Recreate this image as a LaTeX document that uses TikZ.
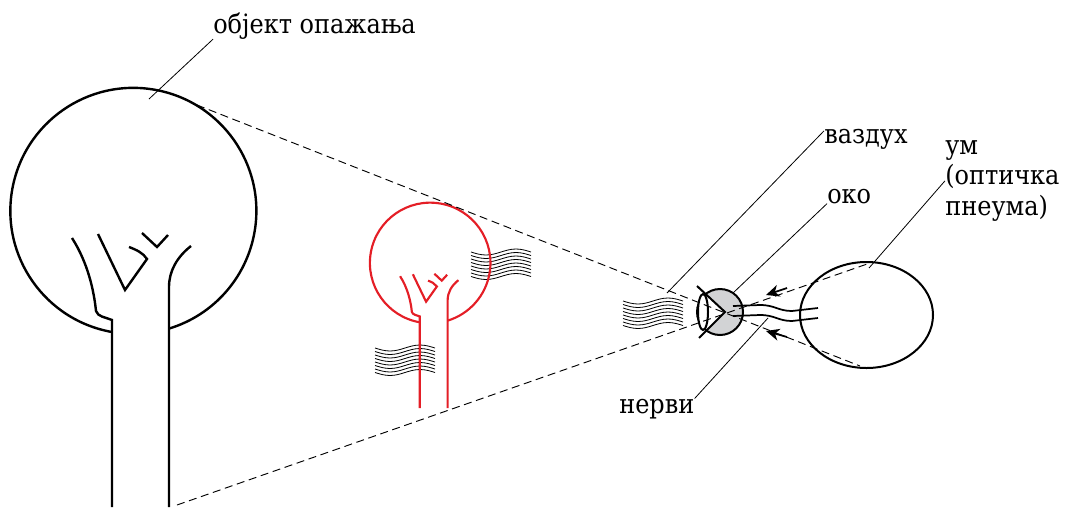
\documentclass[tikz,border=0pt]{standalone}
\usepackage{fontspec}
\setmainfont{DejaVu Serif}[FakeStretch=0.9]
\usetikzlibrary{arrows.meta}
\definecolor{crvena}{RGB}{228,30,38}
\definecolor{siva}{RGB}{210,211,213}

\begin{document}
\begin{tikzpicture}[x=0.75pt, y=-0.75pt,
                natpis/.style={inner sep=0pt, font=\fontsize{20}{23}\selectfont},
                vodilja/.style={line width=0.6pt},
                zrak/.style={dash pattern=on 6pt off 3.5pt, line width=0.7pt},
                talas/.style={line width=0.6pt},
                obris/.style={line width=1.5pt},
                nerv/.style={line width=1.3pt},
                strelica/.style={-{Stealth[length=10pt, width=9pt, inset=3pt]}, line width=1.3pt},
                drvo/.pic={
                    \draw (-21,296) -- (-21,109) .. controls (-28,106) and (-35,106) .. (-37,100)
                        .. controls (-39,80) and (-45,52) .. (-61,27);
                    \draw (-21,121) arc[start angle=100, end angle=433, radius=123];
                    \draw (36,296) -- (36,76) .. controls (36,60) and (44,46) .. (58,35);
                    \draw (-35,23) -- (-8,79) -- (14,48) .. controls (10,42) and (4,39) .. (-4,36);
                    \draw (9,22) -- (24,36) -- (35,24);
                },
                talasi/.pic={
                    \foreach \k in {0,...,7}
                        \draw[talas] (0,3.5*\k) sin (15,3.5*\k+3) cos (30,3.5*\k) sin (45,3.5*\k-3) cos (60,3.5*\k);
                }]
                \useasboundingbox (0,0) rectangle (1073,507);

                \pic at (471,252) {talasi};
                \pic at (375,348) {talasi};
                \pic at (623,301) {talasi};

                \pic[crvena, line width=1.6pt, scale=0.49] at (430,263) {drvo};
                \pic[line width=1.8pt] at (133,211) {drvo};

                \coordinate (oko) at (720,312);
                \fill[siva] (oko) circle[radius=23];
                \begin{scope}
                    \clip (oko) circle[radius=23];
                    \fill[white] (725,312) -- (690,278) -- (690,346) -- cycle;
                \end{scope}
                \draw[obris] (oko) circle[radius=23];
                \draw[obris, fill=white] (703,312) ellipse[x radius=5, y radius=18];
                \draw[obris] (697,286) -- (725,312) -- (699,338);

                \foreach \d in {0,10}
                    \draw[nerv] (733,306+\d) -- (760,305+\d) .. controls (775,305+\d) and (778,311+\d) .. (792,311+\d)
                        -- (818,308+\d);

                \coordinate (um) at (866.5,315);
                \draw[obris] (um) ellipse[x radius=66.5, y radius=53];

                \coordinate (s1) at (787,288);
                \coordinate (s1v) at (766,295);
                \coordinate (s2) at (787,337);
                \coordinate (s2v) at (766,331);
                \draw[strelica] (s1) -- (s1v);
                \draw[strelica] (s2) -- (s2v);

                \coordinate (k1) at (197,105);
                \coordinate (k2) at (860,366);
                \coordinate (k3) at (177,505);
                \coordinate (k4) at (870,263);
                \draw[zrak] (k1) -- (k2);
                \draw[zrak] (k3) -- (k4);

                \node[natpis, anchor=base west] (tObjekt) at (213,33) {објект опажања};
                \node[natpis, anchor=base west] (tVazduh) at (824,143) {ваздух};
                \node[natpis, anchor=base west] (tOko) at (827,203) {око};
                \node[natpis, anchor=north west, align=left] (tUm) at (945,140) {ум\\(оптичка\\пнеума)};
                \node[natpis, anchor=base west] (tNervi) at (619,413) {нерви};

                \coordinate (pObjekt) at (149,99);
                \coordinate (pVazduh) at (667,293);
                \coordinate (pOko) at (733,293);
                \coordinate (pUm) at (869,268);
                \coordinate (pNervi) at (768,318);
                \draw[vodilja] (tObjekt.south west) -- (pObjekt);
                \draw[vodilja] ([yshift=6pt]tVazduh.west) -- (pVazduh);
                \draw[vodilja] (tOko.south west) -- (pOko);
                \draw[vodilja] (tUm.west) -- (pUm);
                \draw[vodilja] (tNervi.north east) -- (pNervi);
\end{tikzpicture}
\end{document}
